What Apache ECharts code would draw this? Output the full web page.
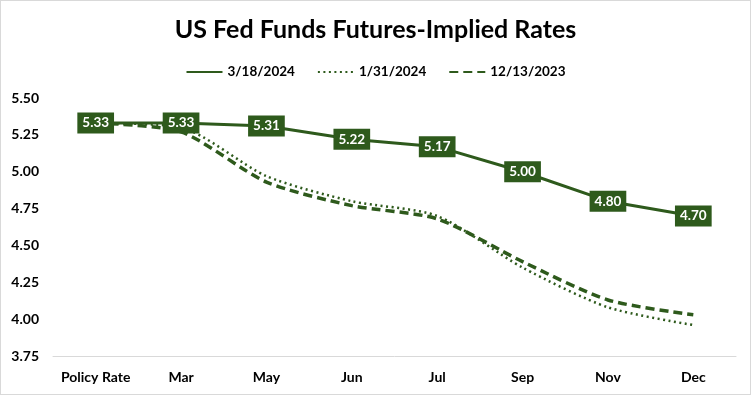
<!DOCTYPE html>
<html>
<head>
<meta charset="utf-8">
<script src="https://cdn.jsdelivr.net/npm/echarts@6/dist/echarts.min.js"></script>
<style>
html,body{margin:0;padding:0;background:#fff;}
#chart{width:749px;height:393px;border:1px solid #d9d9d9;}
</style>
</head>
<body>
<div id="chart"></div>
<script>
const categories = ['Policy Rate','Mar','May','Jun','Jul','Sep','Nov','Dec'];
const rates20240318 = [5.33, 5.33, 5.31, 5.22, 5.17, 5.00, 4.80, 4.70];
const rates20240131 = [5.33, 5.30, 4.97, 4.80, 4.70, 4.35, 4.08, 3.96];
const rates20231213 = [5.33, 5.27, 4.93, 4.77, 4.68, 4.39, 4.13, 4.03];
const seriesNames = ['3/18/2024','1/31/2024','12/13/2023'];

const green = '#2E5A1C';
const font = 'Lato, "Open Sans", sans-serif';
const chart = echarts.init(document.getElementById('chart'));
chart.setOption({
  animation: false,
  title: {
    text: 'US Fed Funds Futures-Implied Rates',
    left: 'center', top: 11,
    textStyle: {fontFamily: font, fontSize: 25, fontWeight: 'bold', color: '#000'}
  },
  legend: {
    top: 59, left: 'center',
    itemWidth: 36, itemHeight: 12, itemGap: 22,
    itemStyle: {opacity: 0},
    textStyle: {fontFamily: font, fontSize: 13.5, fontWeight: 'bold', color: '#000'},
    data: seriesNames
  },
  grid: {left: 52, right: 14, top: 97, bottom: 38},
  xAxis: {
    type: 'category', data: categories, boundaryGap: true,
    axisLine: {lineStyle: {color: '#d9d9d9'}},
    axisTick: {lineStyle: {color: '#d9d9d9'}, length: 5, interval: 0},
    axisLabel: {fontFamily: font, fontSize: 14, fontWeight: 'bold', color: '#000', margin: 14, interval: 0}
  },
  yAxis: {
    type: 'value', min: 3.75, max: 5.5, interval: 0.25,
    splitLine: {show: false},
    axisLine: {show: false}, axisTick: {show: false},
    axisLabel: {fontFamily: font, fontSize: 14, fontWeight: 'bold', color: '#000', margin: 14,
      formatter: v => v.toFixed(2)}
  },
  series: [
    {
      name: seriesNames[0], type: 'line', data: rates20240318, z: 5,
      symbol: 'circle', symbolSize: 1,
      itemStyle: {color: green},
      lineStyle: {color: green, width: 3},
      label: {
        show: true, position: 'inside', formatter: p => p.value.toFixed(2),
        backgroundColor: green, color: '#fff', fontFamily: font, fontSize: 13.5, fontWeight: 'bold',
        padding: [4, 5, 3, 5]
      }
    },
    {
      name: seriesNames[1], type: 'line', data: rates20240131, smooth: 0.25,
      symbol: 'none', itemStyle: {color: green},
      lineStyle: {color: green, width: 2.5, type: [2, 3.5]}
    },
    {
      name: seriesNames[2], type: 'line', data: rates20231213, smooth: 0.25,
      symbol: 'none', itemStyle: {color: green},
      lineStyle: {color: green, width: 3.5, type: [9, 5]}
    }
  ]
});
</script>
</body>
</html>
